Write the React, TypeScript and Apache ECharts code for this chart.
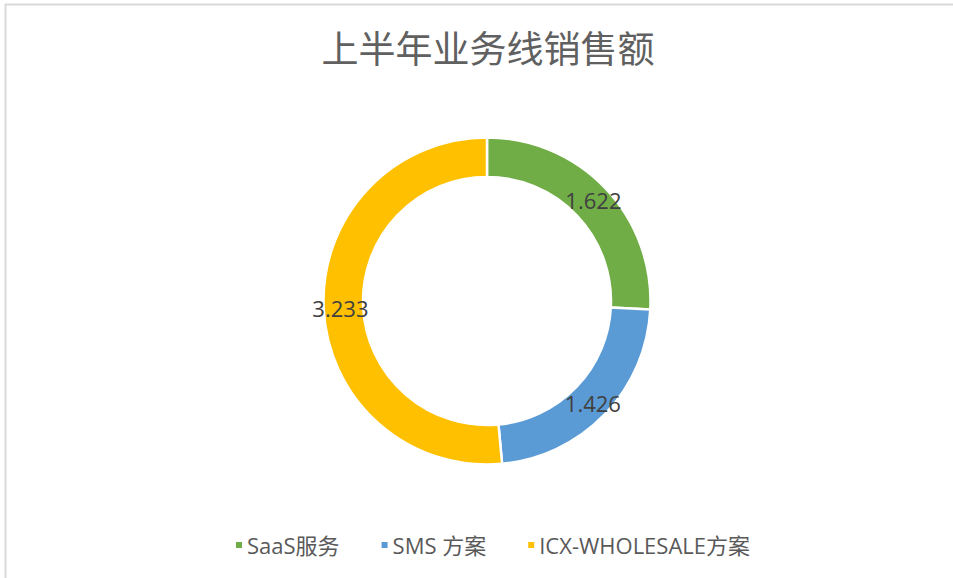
import React, { useEffect, useRef } from "react";
import * as echarts from "echarts";

const titleText = "上半年业务线销售额";
const categories = ["SaaS服务", "SMS 方案", "ICX-WHOLESALE方案"];
const values = [1.622, 1.426, 3.233];
const colors = ["#70AD47", "#5B9BD5", "#FFC000"];

export default function App() {
  const ref = useRef<HTMLDivElement>(null);
  useEffect(() => {
    if (!ref.current) return;
    const chart = echarts.init(ref.current, null, { renderer: "svg" });
    const font = "'Open Sans', 'Noto Sans CJK SC', sans-serif";
    chart.setOption({
      animation: false,
      backgroundColor: "#ffffff",
      title: {
        text: titleText,
        left: 483,
        textAlign: "center",
        top: 23,
        textStyle: {
          fontFamily: "'Noto Sans CJK SC', sans-serif",
          fontSize: 37,
          fontWeight: "normal",
          color: "#606060",
        },
      },
      legend: {
        data: categories,
        left: 229,
        top: 529,
        icon: "rect",
        itemWidth: 8,
        itemHeight: 8,
        itemGap: 40,
        textStyle: {
          fontFamily: font,
          fontSize: 22,
          color: "#595959",
          padding: [0, 0, 0, -1],
        },
      },
      graphic: [
        {
          type: "rect",
          shape: { x: 5.5, y: 4.5, width: 1000, height: 1000 },
          style: { fill: "none", stroke: "#d9d9d9", lineWidth: 2 },
          silent: true,
          z: -1,
        },
      ],
      series: [
        {
          type: "pie",
          center: [487, 301],
          radius: [124, 163.5],
          startAngle: 90,
          clockwise: true,
          avoidLabelOverlap: false,
          itemStyle: { borderColor: "#ffffff", borderWidth: 2.5 },
          label: {
            show: true,
            position: "inside",
            formatter: (p: any) => p.value.toFixed(3),
            fontFamily: font,
            fontSize: 22,
            color: "#404040",
          },
          labelLine: { show: false },
          data: categories.map((c, i) => ({
            name: c,
            value: values[i],
            itemStyle: { color: colors[i] },
          })),
        },
      ],
    });
    return () => chart.dispose();
  }, []);
  return (
    <div
      ref={ref}
      style={{ position: "fixed", left: 0, top: 0, width: 953, height: 578 }}
    />
  );
}
